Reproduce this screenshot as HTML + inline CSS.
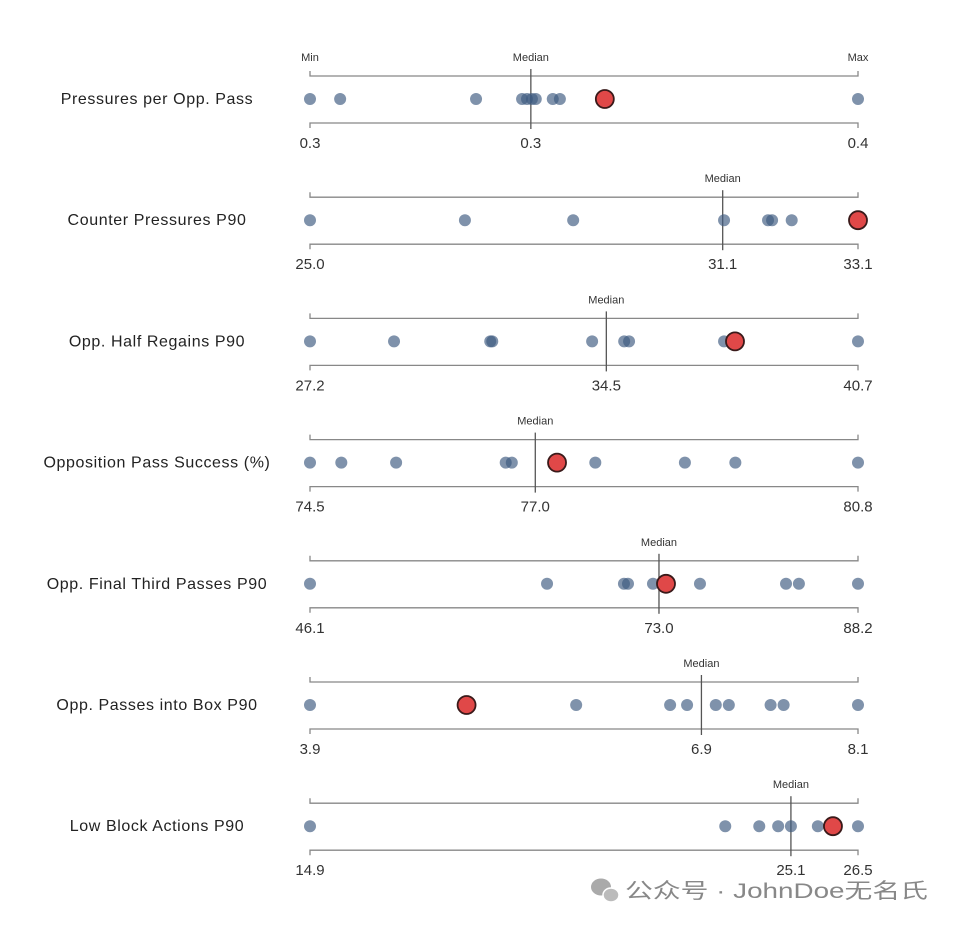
<!DOCTYPE html>
<html><head><meta charset="utf-8"><style>
body{margin:0;background:#fff;width:960px;height:931px;overflow:hidden;font-family:"Liberation Sans",Arial,sans-serif}
</style></head><body>
<svg id="chart" width="960" height="931" xmlns="http://www.w3.org/2000/svg"></svg>
<script>
const metrics=["Pressures per Opp. Pass","Counter Pressures P90","Opp. Half Regains P90","Opposition Pass Success (%)","Opp. Final Third Passes P90","Opp. Passes into Box P90","Low Block Actions P90"];
const mins=[0.3,25.0,27.2,74.5,46.1,3.9,14.9];
const maxs=[0.4,33.1,40.7,80.8,88.2,8.1,26.5];
const medians=[0.3403,31.1,34.5,77.09,72.91,6.90,25.08];
const minLabels=["0.3","25.0","27.2","74.5","46.1","3.9","14.9"];
const medLabels=["0.3","31.1","34.5","77.0","73.0","6.9","25.1"];
const maxLabels=["0.4","33.1","40.7","80.8","88.2","8.1","26.5"];
const points=[
[0.300,0.3055,0.3303,0.3387,0.3396,0.3405,0.3412,0.3443,0.3456,0.400],
[25.0,27.29,28.89,31.12,31.77,31.83,32.12],
[27.2,29.27,31.64,31.69,34.15,34.94,35.06,37.40,40.7],
[74.5,74.86,75.49,76.75,76.82,77.78,78.81,79.39,80.8],
[46.1,64.31,70.22,70.53,72.45,76.06,82.67,83.66,88.2],
[3.9,5.94,6.66,6.79,7.01,7.11,7.43,7.53,8.1],
[14.9,23.69,24.41,24.81,25.08,25.65,26.5]];
const highlights=[0.3538,33.1,37.67,77.34,73.45,5.10,25.97];

const NS="http://www.w3.org/2000/svg";
const svg=document.getElementById('chart');
const X0=310,X1=858,Y0=99,DY=121.2;
function xs(i,v){return X0+(v-mins[i])/(maxs[i]-mins[i])*(X1-X0);}
function mk(tag,attrs,parent){const e=document.createElementNS(NS,tag);for(const k in attrs)e.setAttribute(k,attrs[k]);(parent||svg).appendChild(e);return e;}
function txt(x,y,s,size,anchor,fill,parent){const t=mk('text',{x:x,y:y,'font-size':size,'text-anchor':anchor,fill:fill,'font-family':'Liberation Sans, Arial, sans-serif'},parent);t.textContent=s;return t;}
metrics.forEach((m,i)=>{
  const cy=Y0+i*DY;
  const g=mk('g',{});
  
  
  const lab=txt(157,cy+5,m,16,'middle','#222',g);
  lab.setAttribute('letter-spacing','0.6');
  
  
  const br=mk('path',{d:`M${X0} ${cy-28}V${cy-23}H${X1}V${cy-28}M${X0} ${cy+29}V${cy+24}H${X1}V${cy+29}`,stroke:'#888',fill:'none','stroke-width':1.3},g);
  
  
  const mx=xs(i,medians[i]);
  const ml=mk('line',{x1:mx,x2:mx,y1:cy-30,y2:cy+30,stroke:'#555','stroke-width':1.3},g);
  
  
  const mt=txt(mx,cy-38,'Median',11,'middle','#333',g);
  
  
  if(i===0){
    const a=txt(X0,cy-38,'Min',11,'middle','#333',g);
    
    
    const b=txt(X1,cy-38,'Max',11,'middle','#333',g);
    
    
  }
  const t1=txt(X0,cy+49,minLabels[i],15,'middle','#333',g);
  
  
  const t2=txt(mx,cy+49,medLabels[i],15,'middle','#333',g);
  
  
  const t3=txt(X1,cy+49,maxLabels[i],15,'middle','#333',g);
  
  
  points[i].forEach(v=>{
    const c=mk('circle',{cx:xs(i,v),cy:cy,r:6,fill:'#3d5a80','fill-opacity':0.66},g);
    
    
  });
  const h=mk('circle',{cx:xs(i,highlights[i]),cy:cy,r:9,fill:'#e04848',stroke:'#3a1a1a','stroke-width':1.8},g);
  
  
});
const wm=mk('g',{});


mk('ellipse',{cx:601,cy:887,rx:10,ry:8.5,fill:'#aaa'},wm);
mk('ellipse',{cx:611,cy:895,rx:8,ry:7,fill:'#bbb',stroke:'#fff','stroke-width':1.5},wm);
const wt=txt(625,898,'公众号 · JohnDoe无名氏',21,'start','#888',wm);
wt.setAttribute('font-family','Liberation Sans, Noto Sans CJK SC, sans-serif');
wt.setAttribute('textLength','303');
wt.setAttribute('lengthAdjust','spacingAndGlyphs');
</script>
</body></html>
